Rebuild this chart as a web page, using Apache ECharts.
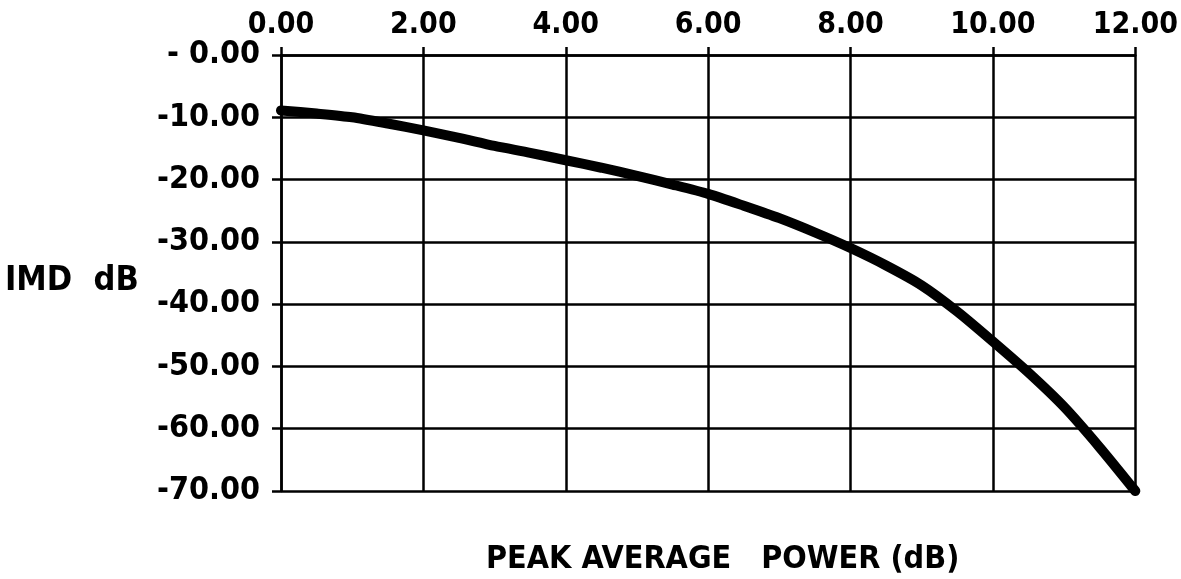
<!DOCTYPE html>
<html>
<head>
<meta charset="utf-8">
<script src="https://cdn.jsdelivr.net/npm/echarts@6/dist/echarts.min.js"></script>
<style>
  html, body { margin: 0; padding: 0; background: #fff; }
  #chart { width: 1181px; height: 579px; }
</style>
</head>
<body>
<div id="chart"></div>
<script>
// Peak-to-average power (dB) vs. intermodulation distortion (dB)
const xValues = [0, 0.5, 1, 1.5, 2, 2.5, 3, 3.5, 4, 4.5, 5, 5.5, 6, 6.5, 7, 7.5, 8, 8.5, 9, 9.5, 10, 10.5, 11, 11.5, 12];
const imdValues = [-8.9, -9.4, -10.0, -11.0, -12.1, -13.3, -14.6, -15.7, -16.9, -18.1, -19.4, -20.8, -22.3, -24.2, -26.2, -28.5, -31.0, -33.8, -37.0, -41.2, -46.0, -51.0, -56.5, -63.0, -70.0];

const xTickValues = [0, 2, 4, 6, 8, 10, 12];
const xTickLabels = ['0.00', '2.00', '4.00', '6.00', '8.00', '10.00', '12.00'];
const yTickValues = [0, -10, -20, -30, -40, -50, -60, -70];
const yTickLabels = ['- 0.00', '-10.00', '-20.00', '-30.00', '-40.00', '-50.00', '-60.00', '-70.00'];

const yAxisTitle = 'IMD  dB';
const xAxisTitle = 'PEAK AVERAGE   POWER (dB)';

const FONT = 'DejaVu Sans Condensed';
const INK = '#000';

function labelFor(values, labels) {
  return v => {
    const i = values.findIndex(t => Math.abs(t - v) < 1e-9);
    return i >= 0 ? labels[i] : '';
  };
}

const chart = echarts.init(document.getElementById('chart'), null, { renderer: 'canvas' });

chart.setOption({
  backgroundColor: '#fff',
  animation: false,
  grid: { left: 281, right: 43, top: 55, bottom: 88, containLabel: false },
  xAxis: {
    type: 'value',
    position: 'top',
    min: 0, max: 12, interval: 2,
    axisLine: { show: true, onZero: false, lineStyle: { color: INK, width: 2.5 } },
    axisTick: { show: true, length: 8, inside: false, lineStyle: { color: INK, width: 2.5 } },
    splitLine: { show: true, lineStyle: { color: INK, width: 2.5 } },
    axisLabel: {
      margin: 15,
      color: INK, fontFamily: FONT, fontSize: 30, fontWeight: 'bold',
      formatter: labelFor(xTickValues, xTickLabels)
    }
  },
  yAxis: {
    type: 'value',
    min: -70, max: 0, interval: 10,
    axisLine: { show: true, onZero: false, lineStyle: { color: INK, width: 2.5 } },
    axisTick: { show: true, length: 9, inside: false, lineStyle: { color: INK, width: 2.5 } },
    splitLine: { show: true, lineStyle: { color: INK, width: 2.5 } },
    axisLabel: {
      margin: 21,
      color: INK, fontFamily: FONT, fontSize: 32, fontWeight: 'bold',
      formatter: labelFor(yTickValues, yTickLabels)
    }
  },
  series: [{
    type: 'line',
    data: xValues.map((x, i) => [x, imdValues[i]]),
    smooth: 0.25,
    showSymbol: false,
    clip: false,
    lineStyle: { color: INK, width: 10, cap: 'round' }
  }],
  graphic: [
    {
      type: 'text', left: 5, top: 264,
      style: { text: yAxisTitle, fill: INK, font: 'bold 34px "' + FONT + '"' }
    },
    {
      type: 'text', left: 486, top: 544,
      style: { text: xAxisTitle, fill: INK, font: 'bold 32px "' + FONT + '"' }
    }
  ]
});
</script>
</body>
</html>
